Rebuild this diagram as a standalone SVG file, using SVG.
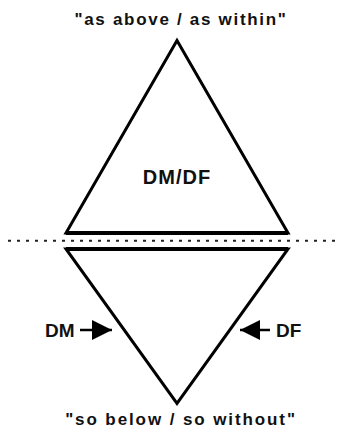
<svg xmlns="http://www.w3.org/2000/svg" width="343" height="435" viewBox="0 0 343 435">
  <style>
    .tri { fill: none; stroke: #000; stroke-width: 3; stroke-linejoin: miter; stroke-miterlimit: 10; }
    .base { stroke: #000; stroke-width: 4; }
    .lbl { font-family: "Liberation Sans", Arial, sans-serif; font-weight: bold; fill: #111; }
    .conn { stroke: #000; stroke-width: 2.5; fill: none; }
    .dots { stroke: #222; stroke-width: 2; stroke-dasharray: 3 6; }
  </style>
  <defs>
    <marker id="ah" viewBox="0 0 20 20" refX="20" refY="10" markerWidth="20" markerHeight="20" markerUnits="userSpaceOnUse" orient="auto">
      <path d="M0,0 L20,10 L0,20 Z" fill="#000"/>
    </marker>
  </defs>
  <rect width="343" height="435" fill="#fff"/>

  <g id="upper">
    <polygon class="tri" points="177,40.5 66,233 288,233"/>
    <line class="base" x1="66" y1="233" x2="288" y2="233"/>
    <text class="lbl" x="177" y="184" font-size="20" text-anchor="middle" letter-spacing="1">DM/DF</text>
  </g>

  <g id="lower">
    <polygon class="tri" points="66,249 288,249 177,403.5"/>
    <line class="base" x1="66" y1="249" x2="288" y2="249"/>
  </g>

  <g id="divider">
    <line class="dots" x1="8" y1="240.7" x2="338" y2="240.7"/>
  </g>

  <g id="top-label">
    <text class="lbl" x="181" y="25" font-size="17" text-anchor="middle" letter-spacing="1.7">"as above / as within"</text>
  </g>

  <g id="bottom-label">
    <text class="lbl" x="181" y="425" font-size="17" text-anchor="middle" letter-spacing="1.9">"so below / so without"</text>
  </g>

  <g id="dm-label">
    <text class="lbl" x="45" y="337" font-size="19">DM</text>
  </g>
  <g id="df-label">
    <text class="lbl" x="276" y="337" font-size="19">DF</text>
  </g>

  <g id="connectors">
    <line class="conn" x1="80" y1="330" x2="112" y2="330" marker-end="url(#ah)"/>
    <line class="conn" x1="270" y1="330" x2="240" y2="330" marker-end="url(#ah)"/>
  </g>
</svg>
